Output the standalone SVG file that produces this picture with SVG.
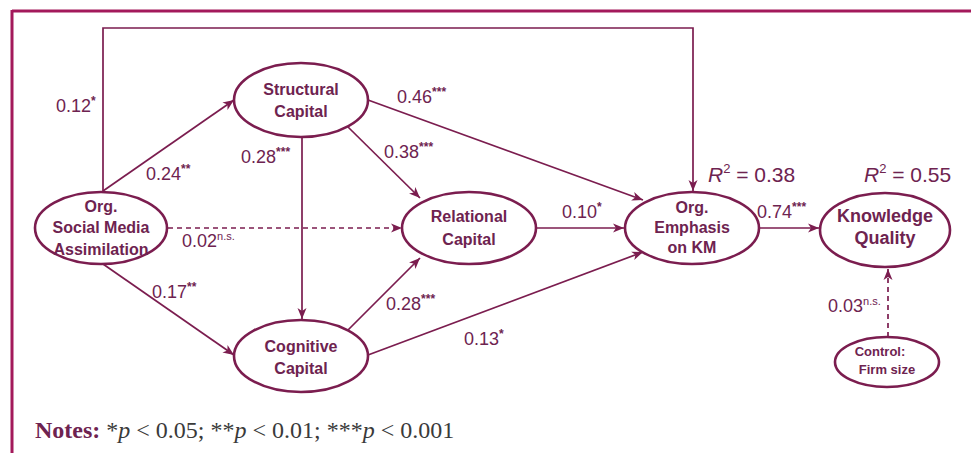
<svg xmlns="http://www.w3.org/2000/svg" width="971" height="453" viewBox="0 0 971 453">
<defs>
<marker id="arr" markerWidth="12" markerHeight="10" refX="11" refY="5" orient="auto" markerUnits="userSpaceOnUse">
<path d="M0,0.5 L11,5 L0,9.5 L3,5 z" fill="#7b1d4f"/>
</marker>
</defs>
<style>
.node ellipse{fill:#fff;stroke:#7b1d4f;stroke-width:2.6}
.node text{font-family:"Liberation Sans",Arial,sans-serif;font-weight:bold;font-size:16px;fill:#6e2350;text-anchor:middle}
.edge{fill:none;stroke:#7b1d4f;stroke-width:1.7;marker-end:url(#arr)}
.dash{stroke-dasharray:5,4}
.lbl{font-family:"Liberation Sans",Arial,sans-serif;font-size:18px;fill:#6e2350}
.sup{font-size:12px;font-weight:bold}
.r2{font-family:"Liberation Sans",Arial,sans-serif;font-size:21px;fill:#6e2350}
</style>
<rect width="971" height="453" fill="#fff"/>
<g id="frame" stroke="#a3195b" stroke-width="3" fill="none">
<line x1="12" y1="11" x2="971" y2="11"/>
<line x1="12" y1="10" x2="12" y2="453"/>
</g>
<g id="connectors">
<path class="edge" d="M103,192 V28 H693 V191"/>
<path class="edge" d="M103,191 L234,100"/>
<path class="edge" d="M302,137 V319"/>
<path class="edge" d="M348,127 L420,198"/>
<path class="edge" d="M368,100 L643,200"/>
<path class="edge dash" d="M168,228 H402"/>
<path class="edge" d="M103,264 L234,355"/>
<path class="edge" d="M348,330 L420,258"/>
<path class="edge" d="M368,355 L643,252"/>
<path class="edge" d="M536,228 H624"/>
<path class="edge" d="M759,228 H819"/>
<path class="edge dash" d="M888,337 V269"/>
</g>
<g id="labels">
<text class="lbl" x="56" y="112">0.12<tspan class="sup" dy="-7">*</tspan></text>
<text class="lbl" x="146" y="180">0.24<tspan class="sup" dy="-7">**</tspan></text>
<text class="lbl" x="241" y="163">0.28<tspan class="sup" dy="-7">***</tspan></text>
<text class="lbl" x="397" y="103">0.46<tspan class="sup" dy="-7">***</tspan></text>
<text class="lbl" x="384" y="158">0.38<tspan class="sup" dy="-7">***</tspan></text>
<text class="lbl" x="182" y="247">0.02<tspan style="font-size:11px" dy="-7">n.s.</tspan></text>
<text class="lbl" x="152" y="298">0.17<tspan class="sup" dy="-7">**</tspan></text>
<text class="lbl" x="386" y="310">0.28<tspan class="sup" dy="-7">***</tspan></text>
<text class="lbl" x="464" y="345">0.13<tspan class="sup" dy="-7">*</tspan></text>
<text class="lbl" x="562" y="218">0.10<tspan class="sup" dy="-7">*</tspan></text>
<text class="lbl" x="757" y="218">0.74<tspan class="sup" dy="-7">***</tspan></text>
<text class="lbl" x="828" y="312">0.03<tspan style="font-size:11px" dy="-7">n.s.</tspan></text>
<text class="r2" x="708" y="182"><tspan font-style="italic">R</tspan><tspan style="font-size:13px" dy="-9">2</tspan><tspan dy="9"> = 0.38</tspan></text>
<text class="r2" x="864" y="182"><tspan font-style="italic">R</tspan><tspan style="font-size:13px" dy="-9">2</tspan><tspan dy="9"> = 0.55</tspan></text>
</g>
<g id="n-sma" class="node">
<ellipse cx="101" cy="228" rx="66" ry="36"/>
<text x="101" y="212">Org.</text>
<text x="101" y="233">Social Media</text>
<text x="101" y="255">Assimilation</text>
</g>
<g id="n-structural" class="node">
<ellipse cx="301" cy="100" rx="67" ry="37"/>
<text x="301" y="95">Structural</text>
<text x="301" y="117">Capital</text>
</g>
<g id="n-cognitive" class="node">
<ellipse cx="301" cy="356" rx="67" ry="36"/>
<text x="301" y="352">Cognitive</text>
<text x="301" y="374">Capital</text>
</g>
<g id="n-relational" class="node">
<ellipse cx="469" cy="228" rx="67" ry="36"/>
<text x="469" y="222">Relational</text>
<text x="469" y="245">Capital</text>
</g>
<g id="n-emphasis" class="node">
<ellipse cx="692" cy="228" rx="67" ry="36"/>
<text x="692" y="213">Org.</text>
<text x="692" y="233">Emphasis</text>
<text x="692" y="253">on KM</text>
</g>
<g id="n-kq" class="node">
<ellipse cx="885" cy="230" rx="65" ry="37"/>
<text x="885" y="222" style="font-size:18px">Knowledge</text>
<text x="885" y="244" style="font-size:18px">Quality</text>
</g>
<g id="n-control" class="node">
<ellipse cx="887" cy="362" rx="52" ry="25"/>
<text x="880" y="356" style="font-size:13px">Control:</text>
<text x="887" y="374" style="font-size:13px">Firm size</text>
</g>
<text x="35" y="438" style="font-family:'Liberation Serif','Times New Roman',serif;font-size:24px;fill:#3a3a3a"><tspan font-weight="bold" fill="#6e2350">Notes:</tspan> *<tspan font-style="italic">p</tspan> &lt; 0.05; **<tspan font-style="italic">p</tspan> &lt; 0.01; ***<tspan font-style="italic">p</tspan> &lt; 0.001</text>
</svg>
